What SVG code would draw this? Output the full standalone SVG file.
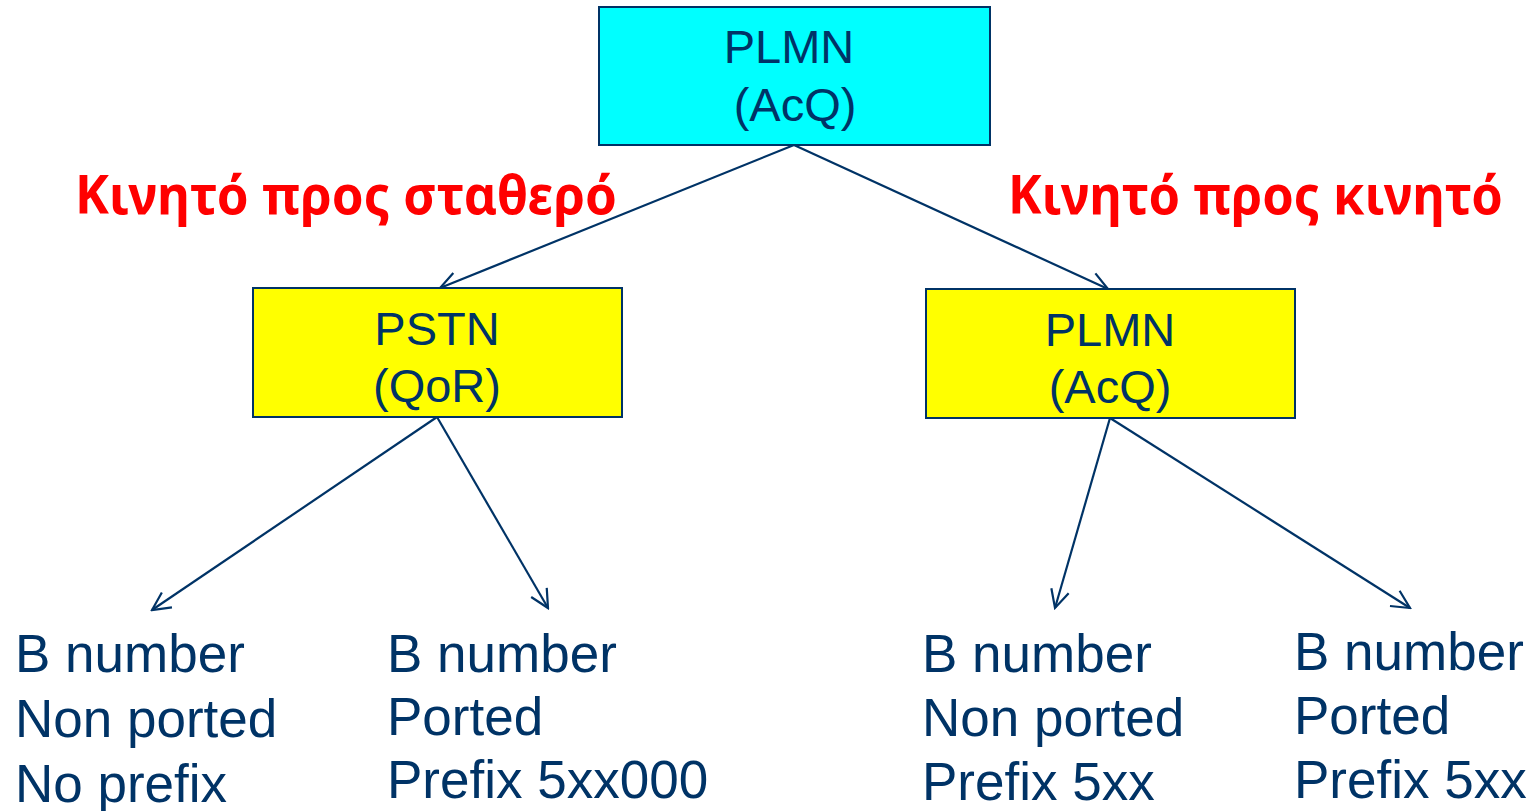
<svg xmlns="http://www.w3.org/2000/svg" width="1533" height="811" viewBox="0 0 1533 811">
  <style>
    .box { stroke: #003366; stroke-width: 2; }
    .cyan { fill: #00FFFF; }
    .yellow { fill: #FFFF00; }
    .lbl { font-family: "Liberation Sans", Arial, sans-serif; fill: #003366; }
    .node { font-size: 47px; text-anchor: middle; }
    .leaf { font-size: 53px; }
    .route { font-family: "Noto Sans", "DejaVu Sans", sans-serif; font-weight: bold; font-size: 53px; fill: #FF0000; }
    .edge { stroke: #003366; stroke-width: 2.2; fill: none; marker-end: url(#arrow); }
  </style>
  <defs>
    <marker id="arrow" viewBox="0 0 22 22" refX="20" refY="11" markerWidth="22" markerHeight="22" markerUnits="userSpaceOnUse" orient="auto">
      <path d="M2,2 L20,11 L2,20" fill="none" stroke="#003366" stroke-width="2.2"/>
    </marker>
  </defs>

  <rect width="1533" height="811" fill="#FFFFFF"/>

  <!-- connectors -->
  <g id="connectors">
    <line class="edge" x1="794" y1="145" x2="440" y2="288"/>
    <line class="edge" x1="794" y1="145" x2="1108" y2="289"/>
    <line class="edge" x1="437" y1="417" x2="152" y2="610"/>
    <line class="edge" x1="437" y1="417" x2="548" y2="608"/>
    <line class="edge" x1="1110" y1="418" x2="1055" y2="608"/>
    <line class="edge" x1="1110" y1="418" x2="1410" y2="608"/>
  </g>

  <!-- route labels -->
  <g id="route-labels">
    <text class="route" x="75" y="214" textLength="542" lengthAdjust="spacingAndGlyphs">Κινητό προς σταθερό</text>
    <text class="route" x="1008" y="214" textLength="495" lengthAdjust="spacingAndGlyphs">Κινητό προς κινητό</text>
  </g>

  <!-- root: originating mobile network -->
  <g id="node-plmn-root">
    <rect class="box cyan" x="599" y="7" width="391" height="138"/>
    <text class="lbl node" x="789" y="63">PLMN</text>
    <text class="lbl node" x="795" y="121">(AcQ)</text>
  </g>

  <!-- fixed network -->
  <g id="node-pstn">
    <rect class="box yellow" x="253" y="288" width="369" height="129"/>
    <text class="lbl node" x="437" y="345">PSTN</text>
    <text class="lbl node" x="437" y="402">(QoR)</text>
  </g>

  <!-- destination mobile network -->
  <g id="node-plmn-dest">
    <rect class="box yellow" x="926" y="289" width="369" height="129"/>
    <text class="lbl node" x="1110" y="346">PLMN</text>
    <text class="lbl node" x="1110" y="403">(AcQ)</text>
  </g>

  <!-- leaf cases -->
  <g id="leaf-fixed-nonported">
    <text class="lbl leaf" x="15" y="672">B number</text>
    <text class="lbl leaf" x="15" y="737">Non ported</text>
    <text class="lbl leaf" x="15" y="802">No prefix</text>
  </g>
  <g id="leaf-fixed-ported">
    <text class="lbl leaf" x="387" y="672">B number</text>
    <text class="lbl leaf" x="387" y="735">Ported</text>
    <text class="lbl leaf" x="387" y="798">Prefix 5xx000</text>
  </g>
  <g id="leaf-mobile-nonported">
    <text class="lbl leaf" x="922" y="672">B number</text>
    <text class="lbl leaf" x="922" y="736">Non ported</text>
    <text class="lbl leaf" x="922" y="800">Prefix 5xx</text>
  </g>
  <g id="leaf-mobile-ported">
    <text class="lbl leaf" x="1294" y="670">B number</text>
    <text class="lbl leaf" x="1294" y="734">Ported</text>
    <text class="lbl leaf" x="1294" y="798">Prefix 5xx</text>
  </g>
</svg>
